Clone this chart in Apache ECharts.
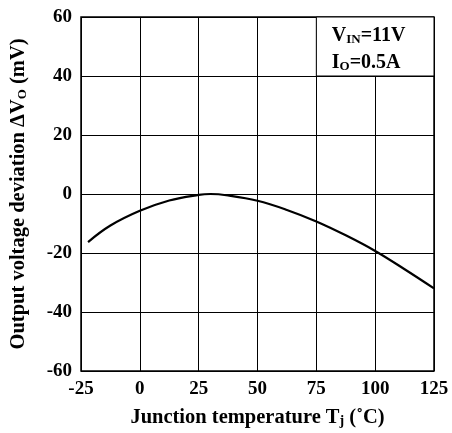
<!DOCTYPE html>
<html>
<head>
<meta charset="utf-8">
<script src="https://cdn.jsdelivr.net/npm/echarts@6/dist/echarts.min.js"></script>
<style>html,body{margin:0;padding:0;background:#fff;}#c{width:452px;height:433px;}</style>
</head>
<body>
<div id="c"></div>
<script>
var xTicks = [-25, 0, 25, 50, 75, 100, 125];
var yTicks = [-60, -40, -20, 0, 20, 40, 60];
var tempC = [-22, -12.5, 0, 12.5, 25, 30, 37.5, 50, 62.5, 75, 87.5, 100, 112.5, 125];
var deltaVo = [-16.3, -10.7, -5.7, -2.2, -0.3, 0, -0.5, -2.3, -5.4, -9.3, -14, -19.3, -25.5, -32];
var boxX = [75, 125];
var boxY = [40, 60];

var F = '"Liberation Serif", "Times New Roman", serif';
var chart = echarts.init(document.getElementById('c'), null, {renderer: 'canvas'});
var data = tempC.map(function (t, i) { return [t, deltaVo[i]]; });

chart.setOption({
  animation: false,
  backgroundColor: '#fff',
  grid: {left: 79, right: 18, top: 17, bottom: 60, show: true, borderColor: '#000', borderWidth: 1.5},
  xAxis: {
    type: 'value', min: xTicks[0], max: xTicks[xTicks.length - 1], interval: 25,
    axisLine: {show: false}, axisTick: {show: false},
    splitLine: {show: true, lineStyle: {color: '#000', width: 1}},
    axisLabel: {color: '#000', fontFamily: F, fontWeight: 'bold', fontSize: 19, margin: 9},
    name: '{a|Junction temperature T}{s|j}{a| (˚C)}',
    nameLocation: 'middle', nameGap: 36,
    nameTextStyle: {
      rich: {
        a: {fontFamily: F, fontWeight: 'bold', fontSize: 20.5, color: '#000'},
        s: {fontFamily: F, fontWeight: 'bold', fontSize: 14, color: '#000', verticalAlign: 'bottom', padding: [4, 0, 0, 0]}
      }
    }
  },
  yAxis: {
    type: 'value', min: yTicks[0], max: yTicks[yTicks.length - 1], interval: 20,
    axisLine: {show: false}, axisTick: {show: false},
    splitLine: {show: true, lineStyle: {color: '#000', width: 1}},
    axisLabel: {color: '#000', fontFamily: F, fontWeight: 'bold', fontSize: 19, margin: 9},
    name: '{a|Output voltage deviation ΔV}{s|O}{a| (mV)}',
    nameLocation: 'middle', nameGap: 52,
    nameTextStyle: {
      rich: {
        a: {fontFamily: F, fontWeight: 'bold', fontSize: 20.5, color: '#000'},
        s: {fontFamily: F, fontWeight: 'bold', fontSize: 13, color: '#000', verticalAlign: 'bottom', padding: [4, 0, 0, 0]}
      }
    }
  },
  series: [{
    type: 'line', data: data, smooth: 0.4, showSymbol: false,
    lineStyle: {color: '#000', width: 2.2},
    markArea: {
      silent: true,
      itemStyle: {color: '#fff', borderColor: '#000', borderWidth: 1},
      label: {
        show: true, position: 'insideLeft', distance: 16,
        padding: [6, 0, 0, 0],
        formatter: '{a|V}{s|IN}{a|=11V}\n{a|I}{s|O}{a|=0.5A}',
        lineHeight: 27,
        rich: {
          a: {fontFamily: F, fontWeight: 'bold', fontSize: 20, color: '#000', lineHeight: 27},
          s: {fontFamily: F, fontWeight: 'bold', fontSize: 13, color: '#000', lineHeight: 27, verticalAlign: 'bottom', padding: [0, 0, 3, 0]}
        }
      },
      data: [[{xAxis: boxX[0], yAxis: boxY[0]}, {xAxis: boxX[1], yAxis: boxY[1]}]]
    }
  }]
});
</script>
</body>
</html>
